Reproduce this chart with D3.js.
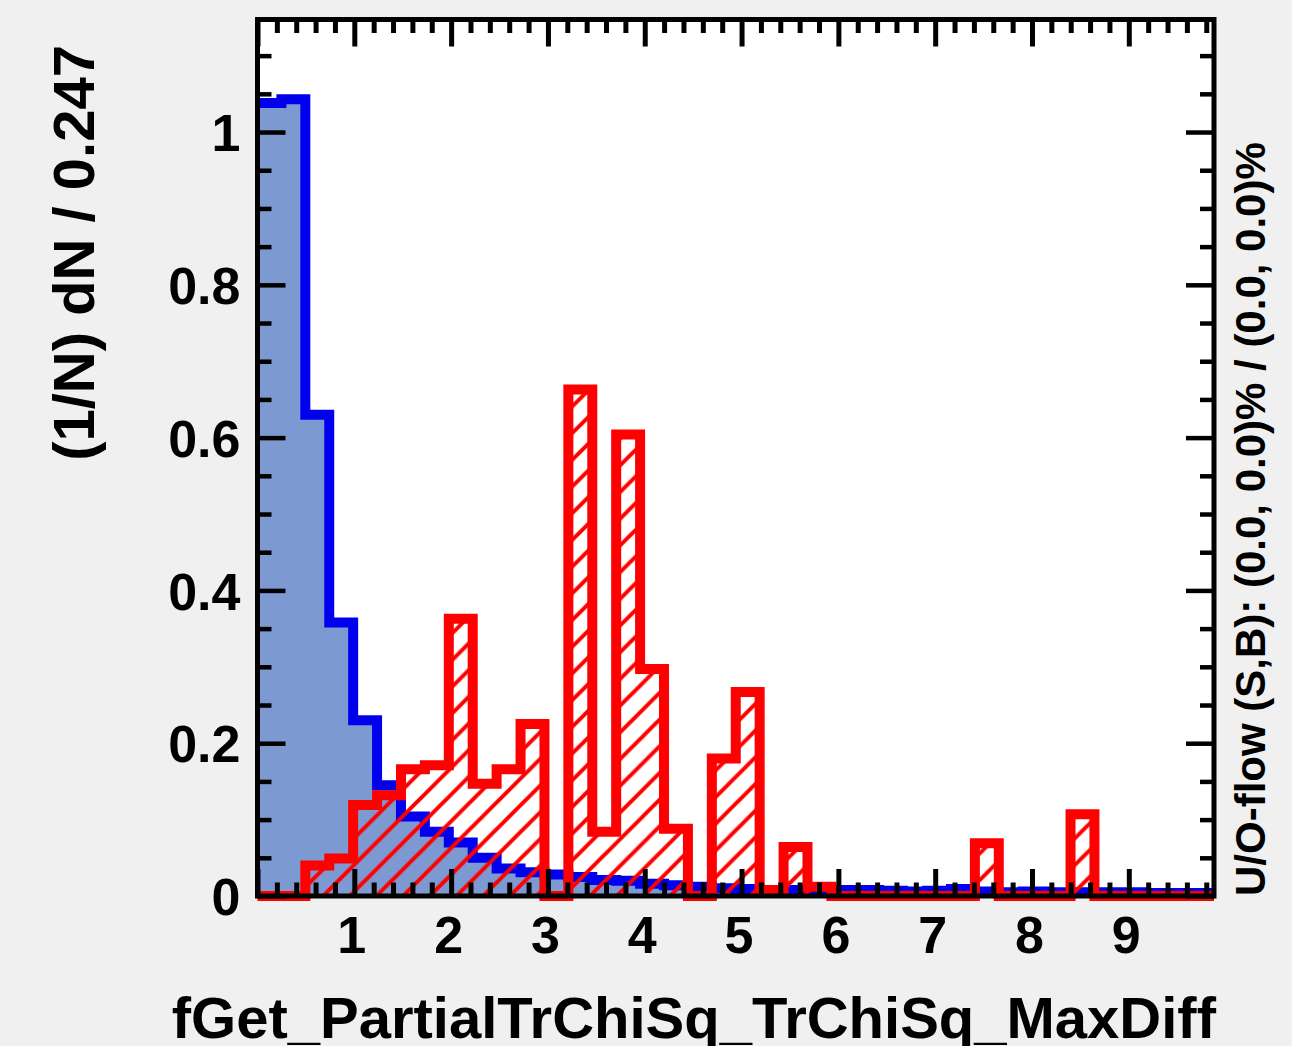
<!DOCTYPE html>
<html><head><meta charset="utf-8">
<script src="https://cdn.jsdelivr.net/npm/d3@7"></script>
<style>
html,body{margin:0;padding:0;background:#f0f0f0;}
svg{display:block;}
text{font-family:"Liberation Sans", Arial, Helvetica, sans-serif; font-weight:bold; fill:#000;}
</style></head><body>
<svg id="c" width="1292" height="1046"></svg>
<script>
// ---- data ----
const binWidth = 0.247;
const xMin = 0;
const signal = [1.038, 1.043, 0.630, 0.358, 0.230, 0.145, 0.104, 0.084, 0.070, 0.050,
                0.036, 0.031, 0.028, 0.025, 0.021, 0.020, 0.016, 0.014, 0.012, 0.010,
                0.009, 0.008, 0.008, 0.007, 0.008, 0.008, 0.007, 0.006, 0.007, 0.009,
                0.006, 0.005, 0.006, 0.005, 0.005, 0.005, 0.005, 0.004, 0.004, 0.004];
const background = [0, 0, 0.040, 0.049, 0.119, 0.132, 0.166, 0.171, 0.363, 0.147,
                    0.166, 0.225, 0, 0.663, 0.084, 0.604, 0.297, 0.088, 0, 0.180,
                    0.267, 0.008, 0.064, 0.012, 0, 0, 0, 0, 0, 0,
                    0.069, 0, 0, 0, 0.107, 0, 0, 0, 0, 0];
const xTickLabels = [1, 2, 3, 4, 5, 6, 7, 8, 9];
const yTickLabels = [0, 0.2, 0.4, 0.6, 0.8, 1];
const xTitle = "fGet_PartialTrChiSq_TrChiSq_MaxDiff";
const yTitle = "(1/N) dN / 0.247";
const rightTitle = "U/O-flow (S,B): (0.0, 0.0)% / (0.0, 0.0)%";

// ---- layout ----
const L = 257.5, R = 1214, T = 19.5, B = 896;
const nBins = signal.length;
const xMax = xMin + nBins * binWidth;
const x = d3.scaleLinear().domain([xMin, xMax]).range([L, R]);
const y = d3.scaleLinear().domain([0, 1.1473]).range([B, T]);

const svg = d3.select("#c");
svg.append("rect").attr("width", 1292).attr("height", 1046).attr("fill", "#f0f0f0");
svg.append("rect").attr("x", L).attr("y", T).attr("width", R - L).attr("height", B - T).attr("fill", "#fff");

const defs = svg.append("defs");
const P = 26.7;
const pat = defs.append("pattern").attr("id", "hatch").attr("patternUnits", "userSpaceOnUse")
  .attr("x", 17.5).attr("y", 0).attr("width", P).attr("height", P);
pat.append("path")
  .attr("d", `M0,${P} L${P},0 M${-P/2},${P/2} L${P/2},${-P/2} M${P/2},${1.5*P} L${1.5*P},${P/2}`)
  .attr("stroke", "#ff0000").attr("stroke-width", 4).attr("fill", "none");

// outline: from top of first bin to top of last bin (no verticals at the range ends)
function outlinePoints(vals) {
  const pts = vals.map((v, i) => [xMin + i * binWidth, v]);
  pts.push([xMax, vals[vals.length - 1]]);
  return pts;
}
function areaPoints(vals) {
  return outlinePoints(vals);
}
const line = d3.line().x(d => x(d[0])).y(d => y(d[1])).curve(d3.curveStepAfter);
const area = d3.area().x(d => x(d[0])).y0(y(0)).y1(d => y(d[1])).curve(d3.curveStepAfter);

svg.append("path").attr("d", area(areaPoints(signal))).attr("fill", "#7d99d1");
svg.append("path").attr("d", line(outlinePoints(signal))).attr("fill", "none").attr("stroke", "#0000ee")
  .attr("stroke-width", 10).attr("stroke-linejoin", "miter");
svg.append("path").attr("d", area(areaPoints(background))).attr("fill", "url(#hatch)");
svg.append("path").attr("d", line(outlinePoints(background))).attr("fill", "none").attr("stroke", "#ff0000")
  .attr("stroke-width", 10).attr("stroke-linejoin", "miter");

// ---- frame and ticks ----
const xMajor = d3.range(0, 10, 1);
const xMinor = d3.range(0, xMax, 0.2).filter(v => Math.abs(v - Math.round(v)) > 1e-6);
const yMajor = d3.range(0, 1.15, 0.2);
const yMinor = d3.range(0, 1.15, 0.05).filter(v => Math.abs(v / 0.2 - Math.round(v / 0.2)) > 1e-6);

function tickAxis(gen, vals, size, tx, ty, sw) {
  const g = svg.append("g").attr("transform", `translate(${tx},${ty})`)
    .call(gen.tickValues(vals).tickSize(size).tickSizeOuter(0).tickFormat(""));
  g.select(".domain").remove();
  g.selectAll("line").attr("stroke", "#000").attr("stroke-width", sw);
}
tickAxis(d3.axisTop(x), xMajor, 27, 0, B, 5);
tickAxis(d3.axisTop(x), xMinor, 13.5, 0, B, 5);
tickAxis(d3.axisBottom(x), xMajor, 27, 0, T, 5);
tickAxis(d3.axisBottom(x), xMinor, 13.5, 0, T, 5);
tickAxis(d3.axisRight(y), yMajor, 28, L, 0, 4.5);
tickAxis(d3.axisRight(y), yMinor, 14, L, 0, 4.5);
tickAxis(d3.axisLeft(y), yMajor, 28, R, 0, 4.5);
tickAxis(d3.axisLeft(y), yMinor, 14, R, 0, 4.5);

svg.append("rect").attr("x", L).attr("y", T).attr("width", R - L).attr("height", B - T)
  .attr("fill", "none").attr("stroke", "#000").attr("stroke-width", 5);

// ---- labels ----
const gx = svg.append("g").attr("transform", `translate(-3,${B})`)
  .call(d3.axisBottom(x).tickValues(xTickLabels).tickSize(0).tickFormat(d3.format("d")));
gx.select(".domain").remove();
gx.selectAll("text").attr("y", 57).attr("dy", 0).style("font-size", "52px")
  .style("font-family", "'Liberation Sans', Arial, sans-serif").style("font-weight", "bold").attr("fill", "#000");

const gy = svg.append("g").attr("transform", `translate(${L},0)`)
  .call(d3.axisLeft(y).tickValues(yTickLabels).tickSize(0).tickFormat(d3.format("~g")));
gy.select(".domain").remove();
gy.selectAll("text").attr("x", -17).attr("dy", "0.36em").style("font-size", "52px")
  .style("font-family", "'Liberation Sans', Arial, sans-serif").style("font-weight", "bold").attr("fill", "#000");

svg.append("text").attr("x", 1216).attr("y", 1038).attr("text-anchor", "end")
  .style("font-size", "58px").text(xTitle);
svg.append("text").attr("transform", "translate(94,45) rotate(-90)").attr("text-anchor", "end")
  .style("font-size", "58px").text(yTitle);
svg.append("text").attr("transform", "translate(1265,896) rotate(-90)").attr("text-anchor", "start")
  .style("font-size", "42px").text(rightTitle);
</script>
</body></html>
